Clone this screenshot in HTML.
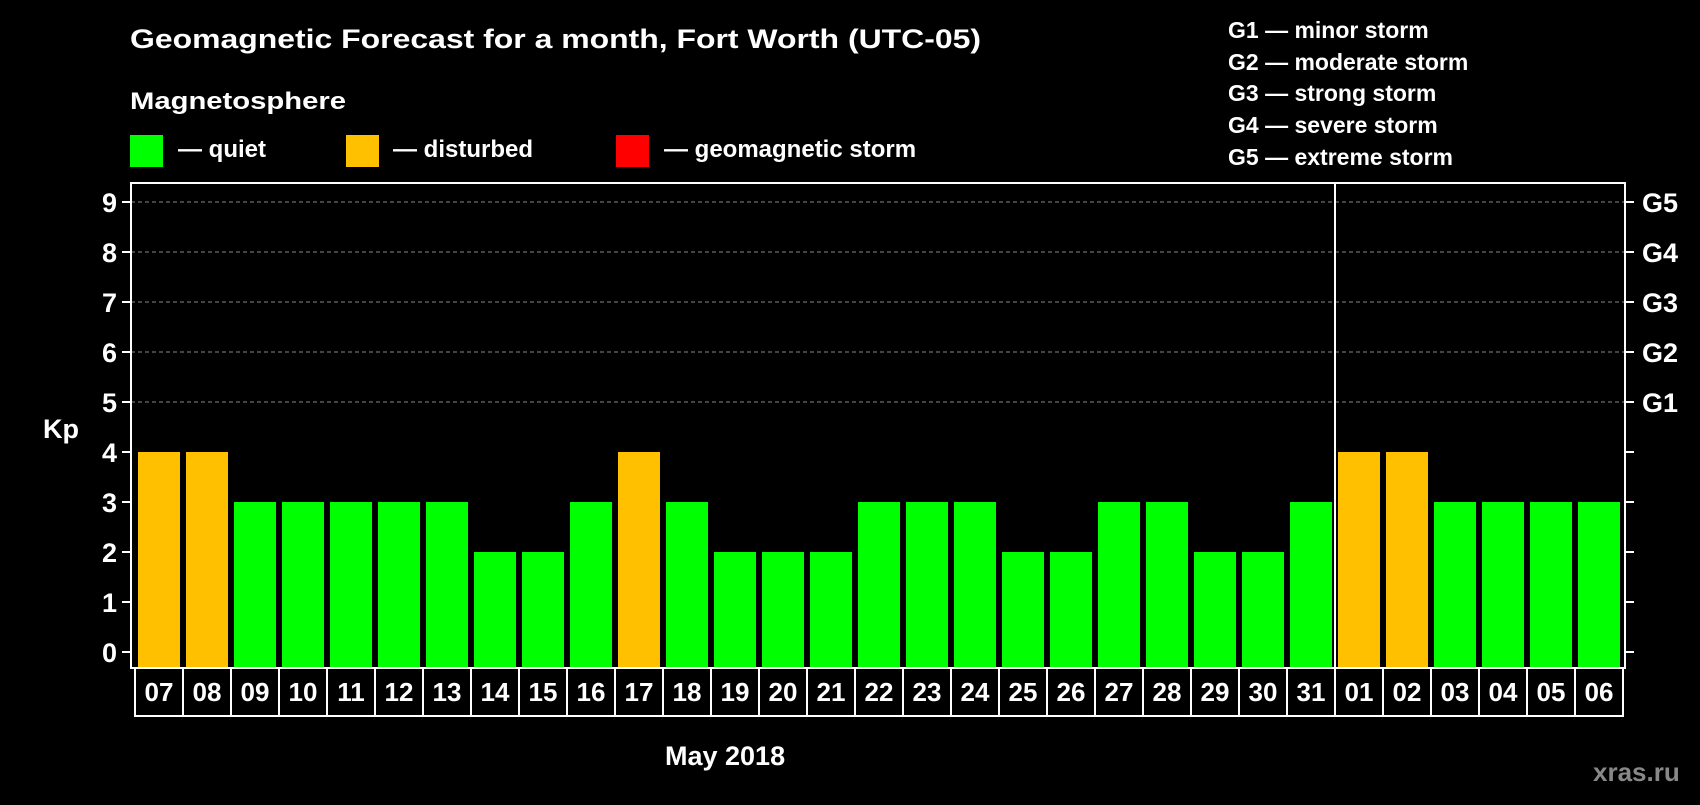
<!DOCTYPE html>
<html><head><meta charset="utf-8"><style>
html,body{margin:0;padding:0;background:#000;}
svg text{font-family:"Liberation Sans",Arial,sans-serif;font-weight:bold;fill:#fff;}
</style></head><body>
<svg id="chart" width="1700" height="800" viewBox="0 0 1700 800" xmlns="http://www.w3.org/2000/svg">
<rect width="1700" height="800" fill="#000"/>
<text x="130" y="48" font-size="27" textLength="851" lengthAdjust="spacingAndGlyphs">Geomagnetic Forecast for a month, Fort Worth (UTC-05)</text>
<text x="130" y="109" font-size="24" textLength="216" lengthAdjust="spacingAndGlyphs">Magnetosphere</text>
<g><rect x="130" y="135" width="33" height="32" fill="#00ff00"/><text x="178" y="157" font-size="24">— quiet</text></g>
<g><rect x="346" y="135" width="33" height="32" fill="#ffc000"/><text x="393" y="157" font-size="24">— disturbed</text></g>
<g><rect x="616" y="135" width="33" height="32" fill="#ff0000"/><text x="664" y="157" font-size="24">— geomagnetic storm</text></g>
<g font-size="23">
<text x="1228" y="38">G1 — minor storm</text>
<text x="1228" y="70">G2 — moderate storm</text>
<text x="1228" y="101">G3 — strong storm</text>
<text x="1228" y="133">G4 — severe storm</text>
<text x="1228" y="165">G5 — extreme storm</text>
</g>
<text x="43" y="438" font-size="27">Kp</text>
<text x="665" y="765" font-size="27">May 2018</text>
<text x="1593" y="781" font-size="26" style="fill:#888">xras.ru</text>
<g id="grid"></g><g id="bars"></g><g id="axes"></g><g id="xlabels"></g>
</svg>
<script>
const days=["07","08","09","10","11","12","13","14","15","16","17","18","19","20","21","22","23","24","25","26","27","28","29","30","31","01","02","03","04","05","06"];
const kp=[4,4,3,3,3,3,3,2,2,3,4,3,2,2,2,3,3,3,2,2,3,3,2,2,3,4,4,3,3,3,3];
const yTicks=[0,1,2,3,4,5,6,7,8,9];
const gLabels=["","","","","","G1","G2","G3","G4","G5"];
const NS="http://www.w3.org/2000/svg";
const pLeft=131,pRight=1625,pTop=183,pBottom=668;
const yS=v=>652-v*50;
const xS=i=>138+i*48;
function mk(t,a,p){const e=document.createElementNS(NS,t);for(const k in a)e.setAttribute(k,a[k]);p.appendChild(e);return e;}
const gridG=document.getElementById('grid'),barsG=document.getElementById('bars'),axesG=document.getElementById('axes'),xlG=document.getElementById('xlabels');
yTicks.forEach((v,i)=>{
  if(v>=5){const g=mk('line',{x1:pLeft,x2:pRight,y1:yS(v),y2:yS(v),stroke:'#888','stroke-width':1,'stroke-dasharray':'4,3'},gridG);
  
  }
  const t1=mk('line',{x1:122,x2:pLeft,y1:yS(v),y2:yS(v),stroke:'#fff','stroke-width':2},axesG);
  
  
  const t2=mk('line',{x1:pRight,x2:1634,y1:yS(v),y2:yS(v),stroke:'#fff','stroke-width':2},axesG);
  
  
  const l=mk('text',{x:117,y:yS(v)+10,'font-size':27,'text-anchor':'end'},axesG);l.textContent=v;
  
  
  if(gLabels[i]){const g2=mk('text',{x:1642,y:yS(v)+10,'font-size':27},axesG);g2.textContent=gLabels[i];
  
  }
});
kp.forEach((v,i)=>{
  const b=mk('rect',{x:xS(i),y:yS(v),width:42,height:pBottom-yS(v),fill:v>=5?'#ff0000':(v>=4?'#ffc000':'#00ff00')},barsG);
  
  
  const c=mk('rect',{x:135+i*48,y:pBottom,width:48,height:48,fill:'none',stroke:'#fff','stroke-width':2},xlG);
  
  
  const t=mk('text',{x:159+i*48,y:pBottom+33,'font-size':26,'text-anchor':'middle'},xlG);t.textContent=days[i];
  
  
});
const fr=mk('rect',{x:pLeft,y:pTop,width:pRight-pLeft,height:pBottom-pTop,fill:'none',stroke:'#fff','stroke-width':2},axesG);


const sepIdx=days.indexOf("01");
const sep=mk('line',{x1:xS(sepIdx)-3,x2:xS(sepIdx)-3,y1:pTop,y2:pBottom+48,stroke:'#fff','stroke-width':2},axesG);


</script>
</body></html>
